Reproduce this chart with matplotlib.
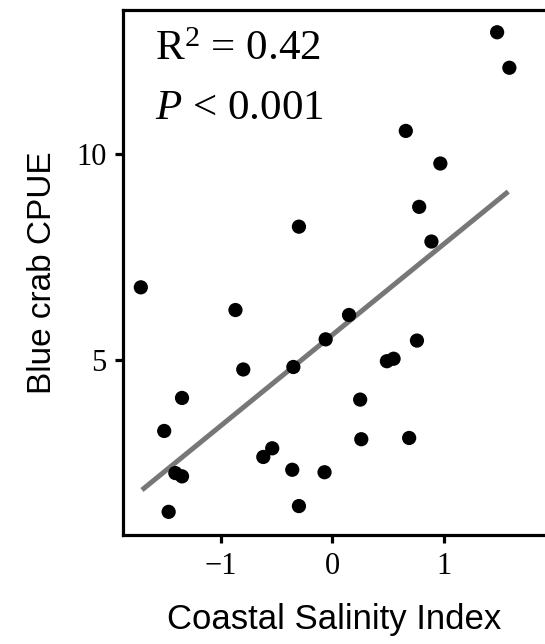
import matplotlib
matplotlib.use('Agg')
import matplotlib.pyplot as plt

plt.rcParams['mathtext.fontset'] = 'custom'
plt.rcParams['mathtext.rm'] = 'Liberation Serif'
plt.rcParams['mathtext.it'] = 'Liberation Serif:italic'

# salinity index vs blue crab CPUE
salinity = [1.48, 1.59, 0.66, 0.97, 0.78, 0.89, -0.30, -1.72, -0.87, 0.15,
            -0.06, 0.76, 0.49, 0.55, -0.80, -0.35, -1.35, 0.25, -1.51, 0.26,
            0.69, -0.54, -0.62, -0.36, -0.07, -1.41, -1.35, -0.30, -1.47]
cpue = [12.95, 12.09, 10.56, 9.77, 8.72, 7.88, 8.24, 6.77, 6.22, 6.10,
        5.51, 5.48, 4.98, 5.04, 4.78, 4.84, 4.09, 4.05, 3.29, 3.09,
        3.12, 2.87, 2.66, 2.35, 2.29, 2.27, 2.19, 1.47, 1.33]

# fitted line ends
fit_x = [-1.71, 1.58]
fit_y = [1.86, 9.09]

xticks = [-1, 0, 1]
yticks = [5, 10]

fig = plt.figure(figsize=(5.45, 6.44), dpi=100)
ax = fig.add_axes([0.2257, 0.1693, 0.7743, 0.8152])

ax.plot(fit_x, fit_y, color='#777777', lw=3.6, solid_capstyle='butt', zorder=2)
ax.scatter(salinity, cpue, s=105, color='black', edgecolors='none', zorder=3)

ax.set_xlim(-1.88, 1.91)
ax.set_ylim(0.77, 13.49)
ax.set_xticks(xticks)
ax.set_xticklabels(['\u22121', '0', '1'])
ax.set_yticks(yticks)

for s in ['left', 'bottom', 'top']:
    ax.spines[s].set_linewidth(2.3)
ax.spines['right'].set_visible(False)

ax.tick_params(length=6, width=2.3, pad=6, labelsize=22, colors='black')
for lab in ax.get_xticklabels() + ax.get_yticklabels():
    lab.set_family('Liberation Serif')
    lab.set_fontsize(22)

ax.set_xlabel('Coastal Salinity Index', family='Liberation Sans', fontsize=25, labelpad=16)
ax.set_ylabel('Blue crab CPUE', family='Liberation Sans', fontsize=24, labelpad=13)

ax.text(0.075, 0.96, 'R$^2$ = 0.42', transform=ax.transAxes, va='top',
        family='Liberation Serif', fontsize=31)
ax.text(0.075, 0.848, '$P$ < 0.001', transform=ax.transAxes, va='top',
        family='Liberation Serif', fontsize=31)

fig.savefig('out.png', dpi=100)
